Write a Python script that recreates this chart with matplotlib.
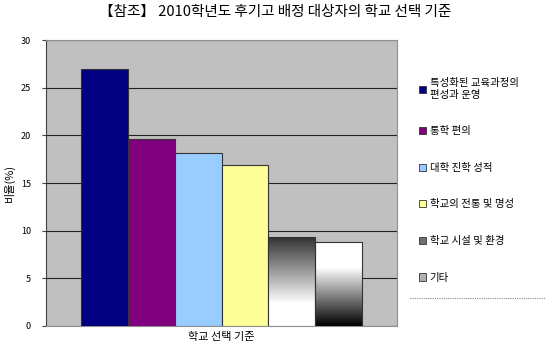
import numpy as np
import matplotlib.pyplot as plt
from matplotlib.lines import Line2D

plt.rcParams['font.family'] = ['Noto Sans CJK KR', 'DejaVu Sans']

# data
categories = ['특성화된 교육과정의\n편성과 운영', '통학 편의', '대학 진학 성적',
              '학교의 전통 및 명성', '학교 시설 및 환경', '기타']
values = [27.0, 19.6, 18.2, 16.9, 9.3, 8.8]
colors = ['#000080', '#800080', '#99CCFF', '#FFFF99', '#808080', '#A0A0A0']
yticks = [0, 5, 10, 15, 20, 25, 30]

fig = plt.figure(figsize=(5.5, 3.53), dpi=100)
ax = fig.add_axes([0.084, 0.0765, 0.638, 0.81])
ax.set_facecolor('#C0C0C0')

x = np.arange(len(values))
bars = ax.bar(x, values, width=1.0, color=colors, edgecolor='#333333', linewidth=0.8, zorder=3)

# gradient fills for the last two bars (row 0 = bottom)
t = np.linspace(0, 1, 256).reshape(-1, 1)
grad5 = np.clip(1.0 - (t - 0.25) / 0.75 * 0.8, 0, 1)    # dark at top, white at bottom
grad6 = np.clip(t / 0.7, 0, 1)                           # white at top, black at bottom
for bar, g in [(bars[4], grad5), (bars[5], grad6)]:
    bx, bh, bw = bar.get_x(), bar.get_height(), bar.get_width()
    ax.imshow(g, cmap='gray', vmin=0, vmax=1, extent=[bx, bx + bw, 0, bh],
              aspect='auto', origin='lower', zorder=4)
    bar.set_facecolor('none')
    bar.set_zorder(5)

ax.set_xlim(-1.25, 6.25)
ax.set_ylim(0, 30)
ax.set_yticks(yticks)
ax.yaxis.grid(True, color='#202020', linewidth=0.8, zorder=1)
ax.set_axisbelow(True)
ax.set_xticks([])
ax.tick_params(axis='y', labelsize=6.5, length=3, color='#404040', pad=8)
for s in ax.spines.values():
    s.set_color('#909090')
    s.set_linewidth(0.8)
ax.spines['left'].set_color('#404040')

ax.set_ylabel('비율(%)', fontsize=8, labelpad=4)
ax.set_xlabel('학교 선택 기준', fontsize=8, labelpad=4)

fig.suptitle('【참조】 2010학년도 후기고 배정 대상자의 학교 선택 기준', fontsize=10.5, y=0.985)

handles = [plt.Rectangle((0, 0), 1, 1, facecolor=c, edgecolor='#333333', linewidth=0.6) for c in colors]
handles[4] = plt.Rectangle((0, 0), 1, 1, facecolor='#707070', edgecolor='#333333', linewidth=0.6)
handles[5] = plt.Rectangle((0, 0), 1, 1, facecolor='#B0B0B0', edgecolor='#333333', linewidth=0.6)
fig.legend(handles, categories, loc='upper left', bbox_to_anchor=(0.745, 0.805),
           frameon=False, fontsize=7.5, handlelength=0.7, handleheight=0.7,
           handletextpad=0.3, labelspacing=2.55)

fig.add_artist(Line2D([0.745, 0.99], [0.156, 0.156], color='#888888',
                      linestyle=(0, (1, 1)), linewidth=0.8, transform=fig.transFigure))

fig.savefig('out.png', dpi=100)
